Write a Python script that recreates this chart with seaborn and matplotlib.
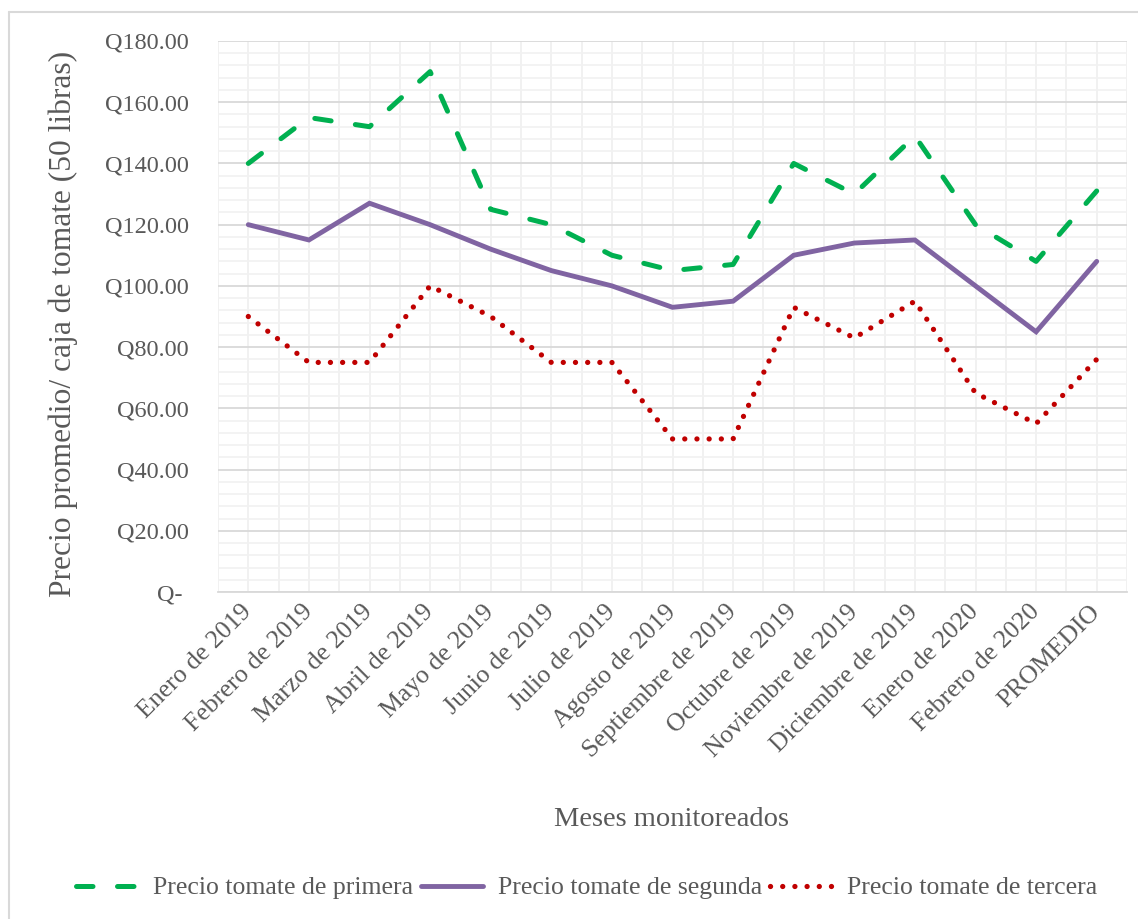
import numpy as np
import pandas as pd
import matplotlib
matplotlib.use("Agg")
import matplotlib.pyplot as plt
import seaborn as sns
from matplotlib.ticker import FuncFormatter, MultipleLocator
from matplotlib.lines import Line2D

# ---- data ----
meses = ["Enero de 2019", "Febrero de 2019", "Marzo de 2019", "Abril de 2019",
         "Mayo de 2019", "Junio de 2019", "Julio de 2019", "Agosto de 2019",
         "Septiembre de 2019", "Octubre de 2019", "Noviembre de 2019",
         "Diciembre de 2019", "Enero de 2020", "Febrero de 2020", "PROMEDIO"]
primera = [140, 155, 152, 170, 125, 120, 110, 105, 107, 140, 130, 149, 120, 108, 131]
segunda = [120, 115, 127, 120, 112, 105, 100, 93, 95, 110, 114, 115, 100, 85, 108]
tercera = [90, 75, 75, 100, 90, 75, 75, 50, 50, 93, 83, 95, 65, 55, 76]
series_names = ["Precio tomate de primera", "Precio tomate de segunda", "Precio tomate de tercera"]
y_ticks = list(range(0, 181, 20))

sns.set_theme(style="white")
plt.rcParams["font.family"] = ["Liberation Serif", "DejaVu Serif"]
TXT = "#595959"

fig = plt.figure(figsize=(11.38, 9.19), dpi=100)
W, H = 1138, 919
ax = fig.add_axes([218 / W, 1 - 592 / H, (1127 - 218) / W, (592 - 41) / H])

x = np.arange(len(meses))
df = pd.DataFrame({"x": x, "primera": primera, "segunda": segunda, "tercera": tercera})

GREEN_DASH = (0, (3.3, 4.9))
RED_DOT = (0, (0.01, 2.3))

sns.lineplot(data=df, x="x", y="primera", ax=ax, color="#00B050", linewidth=3.6,
             label=series_names[0], sort=False)
sns.lineplot(data=df, x="x", y="segunda", ax=ax, color="#8064A2", linewidth=3.5,
             label=series_names[1], sort=False)
sns.lineplot(data=df, x="x", y="tercera", ax=ax, color="#C00000", linewidth=3.8,
             label=series_names[2], sort=False)

lines = ax.get_lines()
lines[0].set_linestyle(GREEN_DASH)
lines[0].set_dash_capstyle("round")
lines[1].set_solid_capstyle("round")
lines[1].set_solid_joinstyle("miter")
lines[2].set_linestyle(RED_DOT)
lines[2].set_dash_capstyle("round")

ax.set_xlim(-0.5, len(meses) - 0.5)
ax.set_ylim(0, 180)
ax.set_yticks(y_ticks)
ax.yaxis.set_minor_locator(MultipleLocator(4))
ax.set_xticks(x)
ax.set_xticks(np.arange(-0.5, len(meses), 1.0), minor=True)
ax.yaxis.set_major_formatter(FuncFormatter(lambda v, p: "Q- " if v == 0 else f"Q{v:.2f}"))

ax.grid(False)
ax.grid(axis="y", which="major", color="#d9d9d9", linewidth=1.3, zorder=0)
ax.grid(axis="y", which="minor", color="#f2f2f2", linewidth=1.3, zorder=0)
ax.grid(axis="x", which="both", color="#f0f0f0", linewidth=1.3, zorder=0)
ax.set_axisbelow(True)

for s in ["top", "right", "left"]:
    ax.spines[s].set_visible(False)
ax.spines["bottom"].set_color("#d9d9d9")
ax.spines["bottom"].set_linewidth(1.3)

ax.tick_params(axis="y", which="both", length=0, pad=21, labelsize=17.5, labelcolor=TXT)
ax.tick_params(axis="x", which="both", length=0, pad=12, labelsize=18.5, labelcolor=TXT)
ax.set_xticklabels(meses, rotation=45, ha="right", va="center", rotation_mode="anchor")

ax.set_xlabel("")
ax.set_ylabel("")
fig.text(672 / W, 1 - 820 / H, "Meses monitoreados", ha="center", va="center",
         fontsize=20.5, color=TXT)
fig.text(63 / W, 1 - 324 / H, "Precio promedio/ caja de tomate (50 libras)", ha="center",
         va="center", rotation=90, fontsize=22.7, color=TXT)

ax.get_legend().remove()
handles = [Line2D([], [], color="#00B050", lw=3.6, linestyle=GREEN_DASH, dash_capstyle="round"),
           Line2D([], [], color="#8064A2", lw=3.5, solid_capstyle="round"),
           Line2D([], [], color="#C00000", lw=3.8, linestyle=RED_DOT, dash_capstyle="round")]
leg = fig.legend(handles, series_names, loc="center", bbox_to_anchor=(587 / W, 1 - 888 / H),
                 ncol=3, frameon=False, fontsize=18.5, handlelength=2.4, handletextpad=0.6,
                 columnspacing=0.3)
for t in leg.get_texts():
    t.set_color(TXT)

# outer chart border (top and left visible)
fig.add_artist(Line2D([9 / W, 1.0], [1 - 12 / H, 1 - 12 / H], transform=fig.transFigure,
                      color="#d9d9d9", lw=1.5))
fig.add_artist(Line2D([9 / W, 9 / W], [0.0, 1 - 12 / H], transform=fig.transFigure,
                      color="#d9d9d9", lw=1.5))

fig.savefig("out.png", dpi=100)
